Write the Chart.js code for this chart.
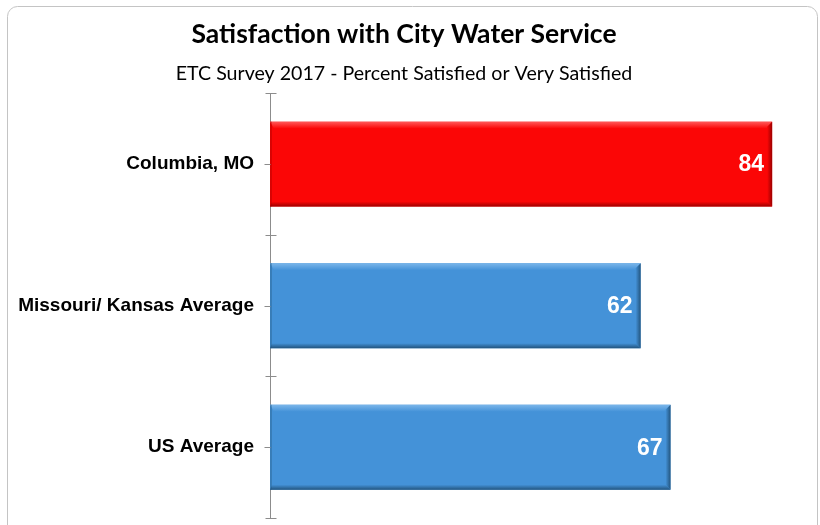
<!DOCTYPE html>
<html>
<head>
<meta charset="utf-8">
<script src="https://cdn.jsdelivr.net/npm/chart.js@4.4.1/dist/chart.umd.min.js"></script>
<style>
  html, body { margin: 0; padding: 0; background: #ffffff; }
  #wrap { width: 820px; height: 525px; position: relative; }
</style>
</head>
<body>
<div id="wrap"><canvas id="c" width="820" height="525"></canvas></div>
<script>
const categories = ["Columbia, MO", "Missouri/ Kansas Average", "US Average"];
const values = [84, 62, 67];
const fillColors = ["#fb0606", "#4492d8", "#4492d8"];
const highlightColors = ["#ff5a5a", "#7bb6ea", "#7bb6ea"];
const edgeColors = ["#9c0000", "#23557f", "#23557f"];
const titleText = "Satisfaction with City Water Service";
const subtitleText = "ETC Survey 2017 - Percent Satisfied or Very Satisfied";

const frame = {
  id: 'frame',
  beforeDraw(chart) {
    const ctx = chart.ctx;
    ctx.save();
    ctx.strokeStyle = '#c4c4c4';
    ctx.lineWidth = 1;
    ctx.beginPath();
    ctx.roundRect(7.5, 6.5, 810, 540, 10);
    ctx.stroke();
    ctx.restore();
  }
};

const bevel = {
  id: 'bevel',
  afterDatasetsDraw(chart) {
    const ctx = chart.ctx;
    const meta = chart.getDatasetMeta(0);
    meta.data.forEach((bar, i) => {
      const p = bar.getProps(['x', 'y', 'base', 'height'], true);
      const l = p.base, r = p.x, t = p.y - p.height / 2, b = p.y + p.height / 2;
      ctx.save();
      let g = ctx.createLinearGradient(0, t, 0, t + 7);
      g.addColorStop(0, highlightColors[i]);
      g.addColorStop(1, fillColors[i]);
      ctx.fillStyle = g;
      ctx.beginPath();
      ctx.moveTo(l, t); ctx.lineTo(r, t); ctx.lineTo(r - 4, t + 7); ctx.lineTo(l + 4, t + 7); ctx.closePath();
      ctx.fill();
      g = ctx.createLinearGradient(r - 5, 0, r, 0);
      g.addColorStop(0, fillColors[i]);
      g.addColorStop(1, edgeColors[i]);
      ctx.fillStyle = g;
      ctx.beginPath();
      ctx.moveTo(r, t); ctx.lineTo(r, b); ctx.lineTo(r - 5, b - 5); ctx.lineTo(r - 5, t + 5); ctx.closePath();
      ctx.fill();
      g = ctx.createLinearGradient(0, b - 5, 0, b);
      g.addColorStop(0, fillColors[i]);
      g.addColorStop(1, edgeColors[i]);
      ctx.fillStyle = g;
      ctx.beginPath();
      ctx.moveTo(l, b); ctx.lineTo(r, b); ctx.lineTo(r - 5, b - 5); ctx.lineTo(l + 2, b - 5); ctx.closePath();
      ctx.fill();
      ctx.fillStyle = edgeColors[i];
      ctx.globalAlpha = 0.35;
      ctx.fillRect(l, t, 2, b - t);
      ctx.restore();
    });
  }
};

const valueLabels = {
  id: 'valueLabels',
  afterDatasetsDraw(chart) {
    const ctx = chart.ctx;
    const meta = chart.getDatasetMeta(0);
    ctx.save();
    ctx.font = 'bold 23px "Liberation Sans", Arial, sans-serif';
    ctx.fillStyle = '#ffffff';
    ctx.textAlign = 'right';
    ctx.textBaseline = 'middle';
    meta.data.forEach((bar, i) => {
      ctx.fillText(String(values[i]), bar.x - 8, bar.y + 1);
    });
    ctx.restore();
  }
};

const axisTicks = {
  id: 'axisTicks',
  afterDraw(chart) {
    const ctx = chart.ctx;
    const ys = chart.scales.y;
    const ax = Math.round(chart.chartArea.left) + 0.5;
    ctx.save();
    ctx.strokeStyle = '#8c8c8c';
    ctx.lineWidth = 1;
    ctx.beginPath();
    for (let i = 0; i <= categories.length; i++) {
      const yy = Math.round(ys.getPixelForValue(i - 0.5)) + 0.5;
      ctx.moveTo(ax - 5, yy); ctx.lineTo(ax + 6, yy);
    }
    for (let i = 0; i < categories.length; i++) {
      const yy = Math.round(ys.getPixelForValue(i)) + 0.5;
      ctx.moveTo(ax - 6, yy); ctx.lineTo(ax, yy);
    }
    ctx.stroke();
    ctx.restore();
  }
};

new Chart(document.getElementById('c'), {
  type: 'bar',
  data: {
    labels: categories,
    datasets: [{
      data: values,
      backgroundColor: fillColors,
      borderWidth: 0,
      barPercentage: 0.6,
      categoryPercentage: 1.0
    }]
  },
  options: {
    indexAxis: 'y',
    responsive: false,
    animation: false,
    devicePixelRatio: 1,
    layout: { padding: { top: 6, bottom: 7, left: 0, right: 12 } },
    plugins: {
      legend: { display: false },
      tooltip: { enabled: false },
      title: {
        display: true,
        text: titleText,
        color: '#000000',
        font: { family: 'Lato, "Open Sans", sans-serif', size: 26.5, weight: 'bold', lineHeight: 1.2 },
        padding: { top: 13, bottom: 2 }
      },
      subtitle: {
        display: true,
        text: subtitleText,
        color: '#000000',
        font: { family: 'Lato, "Open Sans", sans-serif', size: 19.6, weight: 'normal', lineHeight: 1.2 },
        padding: { top: 9, bottom: 8 }
      }
    },
    scales: {
      x: { display: false, min: 0, max: 90 },
      y: {
        afterFit(scale) { scale.width = 270; scale.paddingTop = 0; scale.paddingBottom = 0; },
        grid: { display: false, drawTicks: false },
        border: { display: true, color: '#8c8c8c', width: 1 },
        ticks: {
          color: '#000000',
          padding: 16,
          font: { family: '"Liberation Sans", Arial, sans-serif', size: 19, weight: 'bold' }
        }
      }
    }
  },
  plugins: [frame, bevel, valueLabels, axisTicks]
});
</script>
</body>
</html>
